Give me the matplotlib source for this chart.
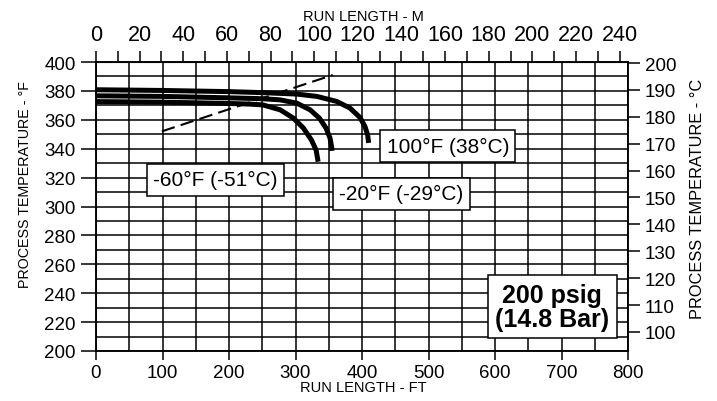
import matplotlib.pyplot as plt
from matplotlib.ticker import MultipleLocator

plt.rcParams['font.family'] = ['Liberation Sans', 'DejaVu Sans']

# curves: run length (ft) vs process temperature (degF)
ft_m60 = [0, 100, 200, 230, 251, 277, 297, 312, 324, 331, 334]
degf_m60 = [372.6, 372.2, 371.3, 370.9, 370.3, 366.9, 361.1, 354.2, 346, 339.1, 331]

ft_m20 = [0, 100, 200, 250, 277, 302, 322, 336, 346, 352, 354.4, 355]
degf_m20 = [376.6, 376.2, 375.2, 374.6, 373.8, 371.5, 366.9, 361.1, 354.2, 347.2, 341, 338.5]

ft_100 = [0, 100, 200, 250, 302, 332, 362, 382, 397, 404.5, 408.5, 410]
degf_100 = [380.8, 380.3, 379.5, 378.8, 377.8, 376.2, 372.7, 368.1, 361.6, 355.3, 349.5, 344]

dash_ft = [99, 356]
dash_degf = [352, 391]

curve_labels = ['-60°F (-51°C)', '-20°F (-29°C)', '100°F (38°C)']
top_ticks_m = [0, 20, 40, 60, 80, 100, 120, 140, 160, 180, 200, 220, 240]

fig = plt.figure(figsize=(7.17, 4.02), dpi=100)
ax = fig.add_axes([96/717, 50/402, 532/717, 289/402])

ax.set_xlim(0, 800)
ax.set_ylim(200, 400)
ax.xaxis.set_major_locator(MultipleLocator(100))
ax.xaxis.set_minor_locator(MultipleLocator(50))
ax.yaxis.set_major_locator(MultipleLocator(20))
ax.yaxis.set_minor_locator(MultipleLocator(10))
ax.grid(which='both', color='black', lw=1.1)
ax.tick_params(which='minor', length=0)
ax.tick_params(axis='x', which='major', length=6.5, width=1.1, labelsize=13.5, pad=3)
ax.tick_params(axis='y', which='major', length=11, width=1.1, labelsize=13.5, pad=3.5)
for s in ax.spines.values():
    s.set_linewidth(1.1)

lw = 3.6
ax.plot(ft_m60, degf_m60, color='black', lw=lw, solid_capstyle='butt', zorder=3)
ax.plot(ft_m20, degf_m20, color='black', lw=lw, solid_capstyle='butt', zorder=3)
ax.plot(ft_100, degf_100, color='black', lw=lw, solid_capstyle='butt', zorder=3)
ax.plot(dash_ft, dash_degf, color='black', lw=1.5, dashes=(6.5, 3), zorder=3)

box = dict(boxstyle='square,pad=0.3', fc='white', ec='black', lw=1.1)
ax.text(179, 318.4, curve_labels[0], fontsize=15, ha='center', va='center', bbox=box, zorder=5)
ax.text(459, 308.7, curve_labels[1], fontsize=15, ha='center', va='center', bbox=box, zorder=5)
ax.text(529, 341.7, curve_labels[2], fontsize=15, ha='center', va='center', bbox=box, zorder=5)
ax.text(686, 230.5, '200 psig\n(14.8 Bar)', fontsize=18, fontweight='bold', ha='center',
        va='center', linespacing=1.0, bbox=dict(boxstyle='square,pad=0.3', fc='white', ec='black', lw=1.1), zorder=5)

# right axis in degC
ax2 = ax.twinx()
ax2.set_ylim(92.9, 200.4)
ax2.yaxis.set_major_locator(MultipleLocator(10))
ax2.set_yticks([100, 110, 120, 130, 140, 150, 160, 170, 180, 190, 200])
ax2.tick_params(axis='y', length=8.6, width=1.1, labelsize=13.5, pad=3.5)
for s in ax2.spines.values():
    s.set_linewidth(1.1)

# top axis in metres
sec = ax.secondary_xaxis('top', functions=(lambda x: x * 0.3048, lambda m: m / 0.3048))
sec.set_xticks(top_ticks_m)
sec.set_xticklabels([str(t) for t in top_ticks_m], fontfamily=['Liberation Sans Narrow', 'Liberation Sans'], fontsize=15.5)
sec.xaxis.set_minor_locator(MultipleLocator(10))
sec.tick_params(which='both', length=8, width=1.1, pad=4)

fig.text(363/717, 1 - 17/402, 'RUN LENGTH - M', ha='center', va='center', fontsize=10.5)
fig.text(363/717, 1 - 388/402, 'RUN LENGTH - FT', ha='center', va='center', fontsize=10.5)
fig.text(25/717, 1 - 185/402, 'PROCESS TEMPERATURE - °F', rotation=90, ha='center', va='center', fontsize=10.3)
fig.text(698/717, 1 - 199/402, 'PROCESS TEMPERATURE - °C', rotation=90, ha='center', va='center', fontsize=11.8)

fig.savefig('out.png', dpi=100)
